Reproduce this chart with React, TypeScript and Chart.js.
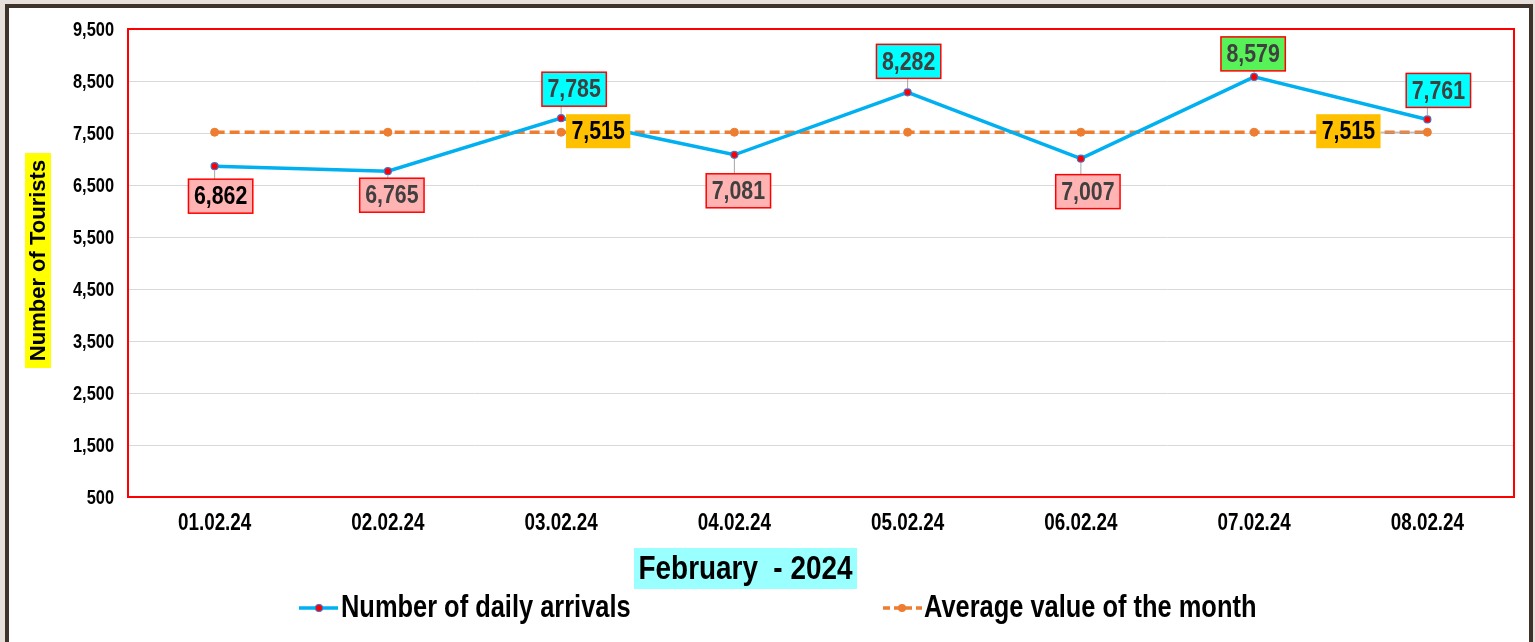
import React, { useEffect, useRef } from "react";
import { Chart, registerables } from "chart.js";

Chart.register(...registerables);

// ---------- data ----------
const categories = ["01.02.24", "02.02.24", "03.02.24", "04.02.24", "05.02.24", "06.02.24", "07.02.24", "08.02.24"];
const dailyArrivals = [6862, 6765, 7785, 7081, 8282, 7007, 8579, 7761];
const monthAverage = [7515, 7515, 7515, 7515, 7515, 7515, 7515, 7515];
const yTicks = [500, 1500, 2500, 3500, 4500, 5500, 6500, 7500, 8500, 9500];
const seriesNames = ["Number of daily arrivals", "Average value of the month"];
const xTitle = "February  - 2024";
const yTitle = "Number of Tourists";

// ---------- label styling (offsets of label box centre from its point, px) ----------
const PINK = "#ffb3b3";
const CYAN = "#00ffff";
const GREEN = "#57f257";
const GOLD = "#ffc000";
const labelSpecs = [
  { ds: 0, i: 0, dx: 6, dy: 30, fill: PINK, border: true, color: "#000000" },
  { ds: 0, i: 1, dx: 4, dy: 24, fill: PINK, border: true, color: "#404040" },
  { ds: 0, i: 2, dx: 13, dy: -29, fill: CYAN, border: true, color: "#404040" },
  { ds: 0, i: 3, dx: 4, dy: 36, fill: PINK, border: true, color: "#404040" },
  { ds: 0, i: 4, dx: 1, dy: -31, fill: CYAN, border: true, color: "#404040" },
  { ds: 0, i: 5, dx: 7, dy: 33, fill: PINK, border: true, color: "#404040" },
  { ds: 0, i: 6, dx: -1, dy: -23, fill: GREEN, border: true, color: "#404040" },
  { ds: 0, i: 7, dx: 11, dy: -29, fill: CYAN, border: true, color: "#404040" },
  { ds: 1, i: 2, dx: 37, dy: -1, fill: GOLD, border: false, color: "#000000" },
  { ds: 1, i: 7, dx: -79, dy: -1, fill: GOLD, border: false, color: "#000000" },
];

const BLUE_LINE = "#00b0f0";
const ORANGE = "#ed7d31";

function fontAvailable(name: string): boolean {
  try {
    const c = document.createElement("canvas").getContext("2d");
    if (!c) return false;
    const s = "abcdefghijklmnopqrstuvwxyz0123456789,.";
    c.font = "bold 60px monospace";
    const w1 = c.measureText(s).width;
    c.font = `bold 60px '${name}', monospace`;
    const w2 = c.measureText(s).width;
    return Math.abs(w1 - w2) > 0.5;
  } catch (e) {
    return false;
  }
}

const fmt = (v: number) => Number(v).toLocaleString("en-US");

export default function App() {
  const ref = useRef<HTMLCanvasElement | null>(null);

  useEffect(() => {
    const canvas = ref.current;
    if (!canvas) return;
    const narrowOk = fontAvailable("Liberation Sans Narrow");
    const NF = narrowOk ? "'Liberation Sans Narrow', 'Arial Narrow', sans-serif" : "'Liberation Sans', Arial, sans-serif";
    const SX = narrowOk ? 1 : 0.82;
    const WF = "'Liberation Sans', Arial, sans-serif";

    const drawText = (
      ctx: CanvasRenderingContext2D,
      text: string,
      x: number,
      y: number,
      size: number,
      align: CanvasTextAlign,
      color: string,
      family = NF,
      sx = SX
    ) => {
      ctx.save();
      ctx.translate(x, y);
      ctx.scale(sx, 1);
      ctx.font = `bold ${size}px ${family}`;
      ctx.textAlign = align;
      ctx.textBaseline = "middle";
      ctx.fillStyle = color;
      ctx.fillText(text, 0, 0);
      ctx.restore();
    };
    const textWidth = (ctx: CanvasRenderingContext2D, text: string, size: number) => {
      ctx.save();
      ctx.font = `bold ${size}px ${NF}`;
      const w = ctx.measureText(text).width * SX;
      ctx.restore();
      return w;
    };

    const framePlugin = {
      id: "frame",
      beforeDraw(chart: any) {
        const ctx = chart.ctx as CanvasRenderingContext2D;
        const W = chart.width;
        const H = chart.height;
        ctx.save();
        ctx.fillStyle = "#e7e0da";
        ctx.fillRect(0, 0, W, H);
        ctx.fillStyle = "#3f322a";
        ctx.fillRect(5, 4, W - 7, H);
        ctx.fillStyle = "#ffffff";
        ctx.fillRect(9, 8, W - 15, H);
        ctx.restore();
      },
      beforeDatasetsDraw(chart: any) {
        const ctx = chart.ctx as CanvasRenderingContext2D;
        const a = chart.chartArea;
        ctx.save();
        ctx.strokeStyle = "#ff0000";
        ctx.lineWidth = 2;
        ctx.strokeRect(a.left, a.top, a.right - a.left, a.bottom - a.top);
        ctx.restore();
      },
      afterDatasetsDraw(chart: any) {
        const ctx = chart.ctx as CanvasRenderingContext2D;
        const boxes: any[] = [];
        labelSpecs.forEach((s) => {
          const el = chart.getDatasetMeta(s.ds).data[s.i];
          const v = chart.data.datasets[s.ds].data[s.i] as number;
          const text = fmt(v);
          const w = textWidth(ctx, text, 26) + 11;
          const h = 34;
          const cx = el.x + s.dx;
          const cy = el.y + s.dy;
          boxes.push({ s, el, text, l: cx - w / 2, t: cy - h / 2, w, h, cx, cy });
        });
        // leader lines
        ctx.save();
        ctx.strokeStyle = "#a6a6a6";
        ctx.lineWidth = 1;
        boxes.forEach((b) => {
          const px = b.el.x;
          const py = b.el.y;
          const qx = Math.min(Math.max(px, b.l), b.l + b.w);
          const qy = Math.min(Math.max(py, b.t), b.t + b.h);
          const d = Math.hypot(qx - px, qy - py);
          if (d > 5) {
            const ux = (qx - px) / d;
            const uy = (qy - py) / d;
            ctx.beginPath();
            ctx.moveTo(px + ux * 4, py + uy * 4);
            ctx.lineTo(qx, qy);
            ctx.stroke();
          }
        });
        ctx.restore();
        boxes.forEach((b) => {
          ctx.save();
          ctx.fillStyle = b.s.fill;
          ctx.fillRect(b.l, b.t, b.w, b.h);
          if (b.s.border) {
            ctx.strokeStyle = "#ff0000";
            ctx.lineWidth = 1.5;
            ctx.strokeRect(b.l, b.t, b.w, b.h);
          }
          ctx.restore();
          drawText(ctx, b.text, b.cx, b.cy + 1, 26, "center", b.s.color);
        });
      },
      afterDraw(chart: any) {
        const ctx = chart.ctx as CanvasRenderingContext2D;
        const xs = chart.scales.x;
        const ys = chart.scales.y;
        const area = chart.chartArea;
        // tick labels (taken from the scales)
        ys.ticks.forEach((t: any) => {
          drawText(ctx, fmt(t.value), area.left - 14, ys.getPixelForValue(t.value) + 1, 20, "right", "#000000");
        });
        xs.ticks.forEach((t: any, i: number) => {
          drawText(ctx, String(xs.getLabelForValue(t.value)), xs.getPixelForTick(i), area.bottom + 26.5, 23, "center", "#000000");
        });
        // y axis title
        ctx.save();
        ctx.fillStyle = "#ffff00";
        ctx.fillRect(25, 153, 26, 215);
        ctx.translate(38, 260.5);
        ctx.rotate(-Math.PI / 2);
        ctx.font = `bold 22px ${WF}`;
        ctx.textAlign = "center";
        ctx.textBaseline = "middle";
        ctx.fillStyle = "#000000";
        ctx.fillText(yTitle, 0, 1);
        ctx.restore();
        // x axis title
        ctx.save();
        ctx.fillStyle = "#99ffff";
        ctx.fillRect(634, 548, 223, 41);
        ctx.restore();
        drawText(ctx, xTitle, 745.5, 569.5, 34, "center", "#000000");
        // legend
        const ly = 608;
        ctx.save();
        ctx.strokeStyle = BLUE_LINE;
        ctx.lineWidth = 3.5;
        ctx.beginPath();
        ctx.moveTo(299, ly);
        ctx.lineTo(338, ly);
        ctx.stroke();
        ctx.fillStyle = "#ff0000";
        ctx.strokeStyle = "#4472c4";
        ctx.lineWidth = 1.2;
        ctx.beginPath();
        ctx.arc(319, ly, 3.5, 0, Math.PI * 2);
        ctx.fill();
        ctx.stroke();
        ctx.strokeStyle = ORANGE;
        ctx.lineWidth = 3.5;
        ctx.setLineDash([7, 4]);
        ctx.beginPath();
        ctx.moveTo(883, ly);
        ctx.lineTo(922, ly);
        ctx.stroke();
        ctx.setLineDash([]);
        ctx.fillStyle = ORANGE;
        ctx.beginPath();
        ctx.arc(902, ly, 4, 0, Math.PI * 2);
        ctx.fill();
        ctx.restore();
        drawText(ctx, seriesNames[0], 341, ly, 31, "left", "#000000");
        drawText(ctx, seriesNames[1], 924, ly, 31, "left", "#000000");
      },
    };

    const chart = new Chart(canvas, {
      type: "line",
      data: {
        labels: categories,
        datasets: [
          {
            label: seriesNames[0],
            data: dailyArrivals,
            borderColor: BLUE_LINE,
            borderWidth: 3.5,
            backgroundColor: "#ff0000",
            pointBackgroundColor: "#ff0000",
            pointBorderColor: "#4472c4",
            pointBorderWidth: 1.2,
            pointRadius: 3.5,
            tension: 0,
            fill: false,
          },
          {
            label: seriesNames[1],
            data: monthAverage,
            borderColor: ORANGE,
            borderWidth: 3.5,
            borderDash: [10, 5],
            backgroundColor: ORANGE,
            pointBackgroundColor: ORANGE,
            pointBorderColor: ORANGE,
            pointBorderWidth: 1,
            pointRadius: 4,
            tension: 0,
            fill: false,
          },
        ],
      },
      options: {
        responsive: false,
        animation: false,
        layout: { padding: { left: 0, right: 21, top: 29, bottom: 0 } },
        plugins: {
          legend: { display: false },
          tooltip: { enabled: false },
          title: { display: false },
        },
        scales: {
          x: {
            type: "category",
            offset: true,
            grid: { display: false, drawTicks: false },
            border: { display: false },
            ticks: { display: false, autoSkip: false, maxRotation: 0 },
            afterFit: (a: any) => {
              a.height = 145;
            },
          },
          y: {
            min: 500,
            max: 9500,
            grid: { color: "#d9d9d9", lineWidth: 1, drawTicks: false },
            border: { display: false },
            ticks: { display: false },
            afterBuildTicks: (a: any) => {
              a.ticks = yTicks.map((v) => ({ value: v }));
            },
            afterFit: (a: any) => {
              a.width = 128;
            },
          },
        },
      } as any,
      plugins: [framePlugin],
    });
    return () => chart.destroy();
  }, []);

  return (
    <div style={{ position: "absolute", left: 0, top: 0, width: 1535, height: 642, overflow: "hidden" }}>
      <canvas ref={ref} width={1535} height={642} style={{ display: "block" }} />
    </div>
  );
}
